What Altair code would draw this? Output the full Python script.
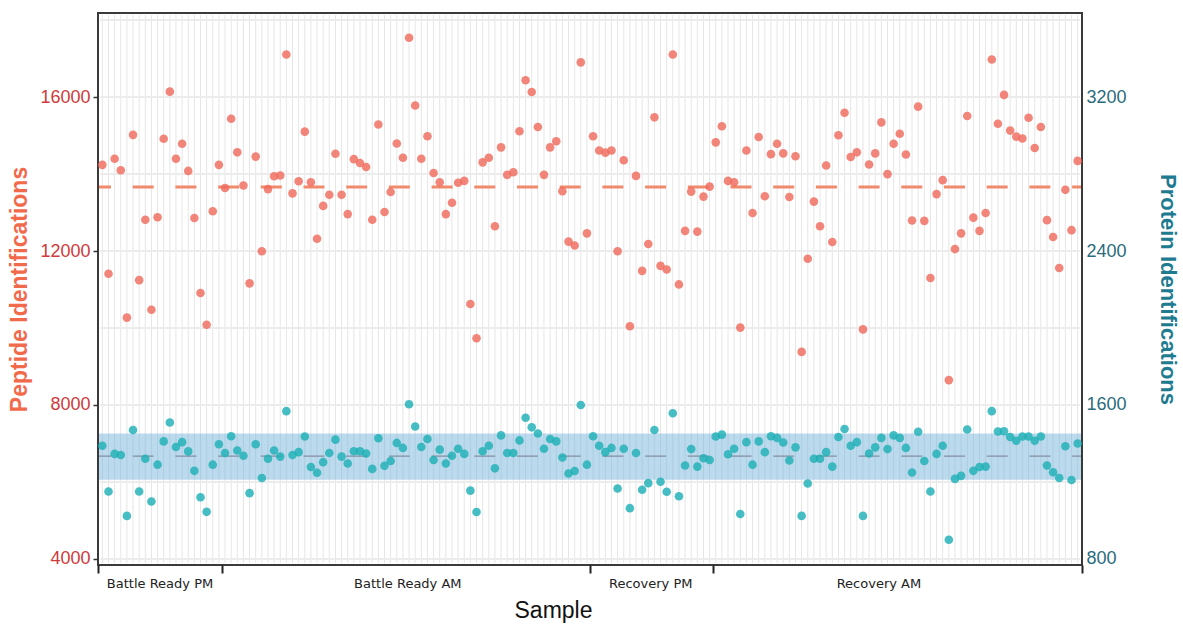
import altair as alt
import pandas as pd

# ---- data ----
peptides = [
    14238, 11410, 14396, 14099, 10270, 15017, 11243, 12810, 10474, 12875,
    14915, 16139, 14396, 14785, 14080, 12856, 10909, 10084, 13033, 14238,
    13636, 15434, 14563, 13701, 11160, 14452, 11994, 13608, 13942, 13960,
    17104, 13497, 13812, 15100, 13784, 12319, 13172, 13459, 14526, 13459,
    12958, 14386, 14284, 14182, 12810, 15286, 13014, 13534, 14794, 14424,
    17539, 15778, 14396, 14980, 14025, 13784, 12958, 13255, 13774, 13821,
    10622, 9732, 14303, 14424, 12643, 14692, 13978, 14044, 15110, 16436,
    16130, 15221, 13978, 14692, 14850, 13552, 12244, 12142, 16900, 12458,
    14980, 14609, 14554, 14609, 11994, 14359, 10047, 13951, 11484, 12180,
    15472, 11614, 11521, 17104, 11132, 12523, 13543, 12504, 13413, 13672,
    14822, 15240, 13821, 13784, 10010, 14609, 12986, 14962, 13422, 14516,
    14785, 14535, 13404, 14461, 9379, 11800, 13283, 12643, 14220, 12235,
    15008, 15592, 14442, 14563, 9964, 14248, 14535, 15342, 13997, 14785,
    15045, 14507, 12792, 15750, 12783, 11299, 13478, 13840, 8647, 12050,
    12458, 15508, 12866, 12523, 12986, 16974, 15304, 16056, 15128, 14971,
    14924, 15462, 14674, 15221, 12801, 12365, 11559, 13589, 12541, 14340,
]
proteins = [
    1388, 1151, 1346, 1340, 1024, 1470, 1151, 1321, 1099, 1290,
    1411, 1509, 1382, 1407, 1359, 1258, 1121, 1045, 1290, 1396,
    1351, 1438, 1364, 1336, 1142, 1396, 1221, 1321, 1364, 1332,
    1568, 1340, 1355, 1436, 1278, 1248, 1303, 1351, 1420, 1332,
    1296, 1360, 1360, 1348, 1268, 1427, 1284, 1309, 1403, 1377,
    1604, 1488, 1382, 1423, 1314, 1368, 1296, 1336, 1373, 1346,
    1155, 1044, 1360, 1388, 1271, 1442, 1351, 1351, 1416, 1534,
    1484, 1452, 1373, 1423, 1411, 1327, 1244, 1257, 1600, 1290,
    1438, 1388, 1355, 1377, 1166, 1373, 1064, 1351, 1160, 1194,
    1470, 1201, 1149, 1557, 1126, 1286, 1371, 1280, 1323, 1314,
    1436, 1446, 1344, 1373, 1034, 1407, 1290, 1411, 1355, 1438,
    1429, 1405, 1312, 1380, 1024, 1192, 1321, 1321, 1355, 1280,
    1434, 1475, 1388, 1407, 1024, 1348, 1380, 1429, 1371, 1442,
    1429, 1377, 1249, 1461, 1309, 1151, 1346, 1388, 900, 1216,
    1232, 1473, 1258, 1278, 1280, 1568, 1462, 1464, 1434, 1414,
    1436, 1436, 1414, 1436, 1286, 1251, 1221, 1386, 1210, 1400,
]
samples = list(range(1, len(peptides) + 1))

groups = ["Battle Ready PM", "Battle Ready AM", "Recovery PM", "Recovery AM"]
group_label_pos = [10.4, 50.8, 90.4, 127.6]
group_edges = [0.29, 20.5, 80.5, 100.5, 160.71]

pep_ticks = [4000, 8000, 12000, 16000]
prot_ticks = [800, 1600, 2400, 3200]
pep_grid = [4000, 6000, 8000, 10000, 12000, 14000, 16000, 18000]

pep_mean = [13660]
prot_mean = [1334]
prot_band_low = [1212]
prot_band_high = [1452]

pep_domain = [3844, 18182]
prot_domain = [768.8, 3636.4]
x_domain = [0.29, 160.71]

W, H = 984, 552
FONT = "Liberation Sans"

df = pd.DataFrame({"sample": samples, "peptides": peptides, "proteins": proteins})
grid_df = pd.DataFrame({"g": pep_grid})
grp_df = pd.DataFrame({"group": groups, "pos": group_label_pos})
pm_df = pd.DataFrame({"m": pep_mean})
band_df = pd.DataFrame({"lo": prot_band_low, "hi": prot_band_high, "m": prot_mean})

xs = alt.Scale(domain=x_domain, nice=False, zero=False)
ys_pep = alt.Scale(domain=pep_domain, nice=False, zero=False)
ys_prot = alt.Scale(domain=prot_domain, nice=False, zero=False)

x_axis = alt.Axis(
    values=group_edges, labels=False, tickSize=8, tickWidth=2, tickColor="#222222",
    domain=False, grid=False, title="Sample", titleFont=FONT, titleFontSize=23,
    titleFontWeight="normal", titleColor="#111111", titleX=455, titleY=45,
    titleBaseline="middle",
)
left_axis = alt.Axis(
    values=pep_ticks, format="d", labelFont=FONT, labelFontSize=18,
    labelColor="#CF3A3C", tickSize=5, tickColor="#333333", tickWidth=1.5,
    labelPadding=3, grid=False, domain=False,
    title="Peptide Identifications", titleFont=FONT, titleFontSize=23,
    titleFontWeight="bold", titleColor="#F26A4C", titleX=-79,
    titleY=H / 2, titleBaseline="middle",
)
right_axis = alt.Axis(
    orient="right", values=prot_ticks, format="d", labelFont=FONT,
    labelFontSize=18, labelColor="#2A6C7D", tickSize=0, labelPadding=4,
    grid=False, domain=False,
    title="Protein Identifications", titleFont=FONT, titleFontSize=22,
    titleFontWeight="bold", titleColor="#1E7B90", titleX=85,
    titleY=H / 2, titleAngle=90, titleBaseline="middle",
)

vgrid = alt.Chart(df).mark_rule(color="#E6E6E6", strokeWidth=1).encode(
    x=alt.X("sample:Q", scale=xs, axis=x_axis),
    y=alt.value(2), y2=alt.value(H - 2),
)
hgrid = alt.Chart(grid_df).mark_rule(color="#ECECEC", strokeWidth=2).encode(
    y=alt.Y("g:Q", scale=ys_pep, axis=left_axis),
    x=alt.value(2), x2=alt.value(W - 2),
)
pep_line = alt.Chart(pm_df).mark_rule(
    color="#F08A6C", strokeWidth=3, strokeDash=[21, 21.7], strokeDashOffset=9
).encode(
    y=alt.Y("m:Q", scale=ys_pep, axis=left_axis),
    x=alt.value(1), x2=alt.value(W - 1),
)

red_pts = alt.Chart(df).mark_circle(size=74, color="#F06B5E", opacity=0.82).encode(
    x=alt.X("sample:Q", scale=xs, axis=x_axis),
    y=alt.Y("peptides:Q", scale=ys_pep, axis=left_axis),
)
grp_text = alt.Chart(grp_df).mark_text(
    font="DejaVu Sans", fontSize=13, color="#222222", baseline="middle"
).encode(
    x=alt.X("pos:Q", scale=xs, axis=x_axis), y=alt.value(H + 19), text="group:N"
)

left = alt.layer(vgrid, hgrid, pep_line, red_pts, grp_text)

band = alt.Chart(band_df).mark_rect(color="#6BAED6", opacity=0.45).encode(
    y=alt.Y("lo:Q", scale=ys_prot, axis=right_axis), y2="hi:Q",
    x=alt.value(1), x2=alt.value(W - 1),
)
prot_line = alt.Chart(band_df).mark_rule(
    color="#8190A0", strokeWidth=1.2, strokeDash=[21, 21.7], strokeDashOffset=9
).encode(
    y=alt.Y("m:Q", scale=ys_prot, axis=right_axis),
    x=alt.value(1), x2=alt.value(W - 1),
)

blue_pts = alt.Chart(df).mark_circle(size=74, color="#1FB0B6", opacity=0.82).encode(
    x=alt.X("sample:Q", scale=xs, axis=x_axis),
    y=alt.Y("proteins:Q", scale=ys_prot, axis=right_axis),
)

right = alt.layer(band, prot_line, blue_pts)

chart = (
    alt.layer(left, right)
    .resolve_scale(y="independent")
    .properties(
        width=W, height=H,
        autosize=alt.AutoSizeParams(type="none"),
        padding={"left": 98, "top": 13, "right": 101, "bottom": 60},
        background="white",
    )
    .configure_view(stroke="#3A3A3A", strokeWidth=2)
)

chart.save("out.html", embed_options={"renderer": "svg", "actions": False})
